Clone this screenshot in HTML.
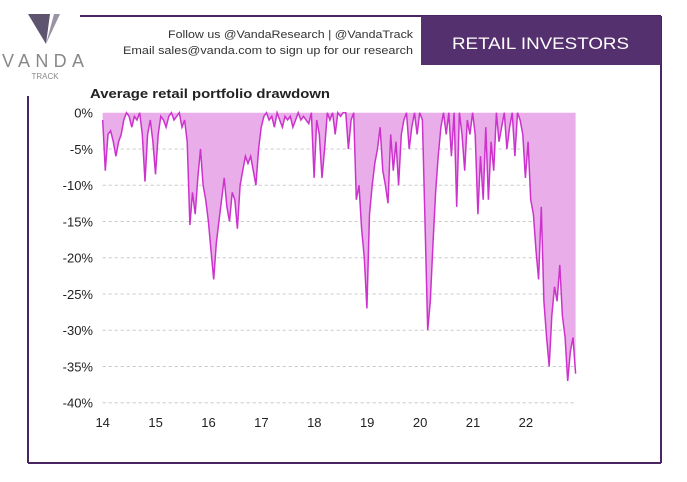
<!DOCTYPE html>
<html><head><meta charset="utf-8"><style>
body{margin:0;width:687px;height:482px;background:#fff;font-family:"Liberation Sans",sans-serif;position:relative;overflow:hidden}
</style></head><body>
<svg width="687" height="482" style="position:absolute;left:0;top:0">
<g>
<polygon points="28,14 50,14 46,44" fill="#5e5470"/>
<polygon points="46,44 54,14 60,14" fill="#9a93a6"/>
<text x="2" y="67" font-size="18" fill="#888" textLength="82" lengthAdjust="spacing">VANDA</text>
<text x="45" y="79" font-size="8" fill="#888" text-anchor="middle">TRACK</text>
</g>
<line x1="80" y1="16" x2="661" y2="16" stroke="#4a2563" stroke-width="2"/>
<line x1="661" y1="16" x2="661" y2="463" stroke="#4a2563" stroke-width="2"/>
<line x1="28" y1="96" x2="28" y2="463" stroke="#4a2563" stroke-width="2"/>
<line x1="28" y1="463" x2="661" y2="463" stroke="#4a2563" stroke-width="2"/>
<rect x="421" y="16" width="240" height="49" fill="#55306e"/>
<text x="452" y="49" font-size="17" fill="#fff" textLength="177" lengthAdjust="spacingAndGlyphs">RETAIL INVESTORS</text>
<text x="168" y="38" font-size="11" fill="#333" textLength="245" lengthAdjust="spacingAndGlyphs">Follow us @VandaResearch  | @VandaTrack</text>
<text x="123" y="54" font-size="11" fill="#333" textLength="290" lengthAdjust="spacingAndGlyphs">Email sales@vanda.com  to sign up for our research</text>
<text x="90" y="98" font-size="13" font-weight="bold" fill="#222" textLength="240" lengthAdjust="spacingAndGlyphs">Average retail portfolio drawdown</text>
<g id="plot"></g>
</svg>
<script>
const ticksY=[0,-5,-10,-15,-20,-25,-30,-35,-40];
const ticksX=[14,15,16,17,18,19,20,21,22];
const v14=[-1,-8,-3,-2.5,-4,-6,-4,-3,-1,0,-0.5,-2,-0.5,-1,0,-3,-9.5,-3,-1,-4];
const v15=[-8.5,-3,-0.5,-1,-2,-0.5,0,-1,-0.5,0,-2,-1,-4,-15.5,-11,-14,-9,-5,-10,-12];
const v16=[-15,-19,-23,-18,-15,-12,-9,-13,-15,-11,-12,-16,-10,-8,-6,-7,-6,-8,-10,-5];
const v17=[-2,-0.5,0,-1,-0.5,-2,0,-1,-2,-0.5,-1,-0.5,-2,-1,0,-1,-0.5,-1,-1.5,0];
const v18=[-9,-1,-3,-9,-5,0,-1,0,-3,0,-0.5,0,0,-5,-1,0,-12,-10,-16,-20];
const v19=[-27,-14,-10,-7,-5,-2,-8,-10,-12.5,-3,-8,-4,-10,-3,-1,0,-5,-2,0,-3];
const v20=[0,-1,-15,-30,-26,-18,-11,-6,-2,0,-3,0,-6,0,-13,0,-3,-8,-1,-3];
const v21=[0,-3,-14,-6,-12,-2,-12,-4,-8,0,-4,-2,0,-5,-2,0,-6,0,-1,-3];
const v22=[-9,-4,-12,-14,-19,-23,-13,-26,-31,-35,-28,-24,-26,-21,-28,-31,-37,-33,-31,-36];
const values=[].concat(v14,v15,v16,v17,v18,v19,v20,v21,v22);
const x0=102.7,yr=52.9,y0=112.7,per=7.25;
const sx=t=>x0+(t-14)*yr, sy=v=>y0-v*per;
const NS="http://www.w3.org/2000/svg";
const g=document.getElementById('plot');
function mk(tag,a){const e=document.createElementNS(NS,tag);for(const k in a)e.setAttribute(k,a[k]);g.appendChild(e);return e;}
ticksY.forEach(t=>{
 if(t<0){const l=mk('line',{x1:sx(14),x2:sx(22.95),y1:sy(t),y2:sy(t),stroke:'#c8c8c8','stroke-dasharray':'3,3'});
 
 }
 const tx=mk('text',{x:93,y:sy(t)+5,'font-size':13,fill:'#222','text-anchor':'end'});tx.textContent=t+'%';
 
 
});
ticksX.forEach(t=>{const tx=mk('text',{x:sx(t),y:427,'font-size':13,fill:'#222','text-anchor':'middle'});tx.textContent=t;
 
 
});
const n=values.length,span=22.94-14;
const pts=values.map((v,i)=>sx(14+span*i/(n-1)).toFixed(1)+','+sy(v).toFixed(1));
const area=mk('polygon',{points:sx(14)+','+sy(0)+' '+pts.join(' ')+' '+sx(22.94)+','+sy(0),fill:'#e9aee9'});


const line=mk('polyline',{points:pts.join(' '),fill:'none',stroke:'#cc33cc','stroke-width':1.5});


</script>
</body></html>
